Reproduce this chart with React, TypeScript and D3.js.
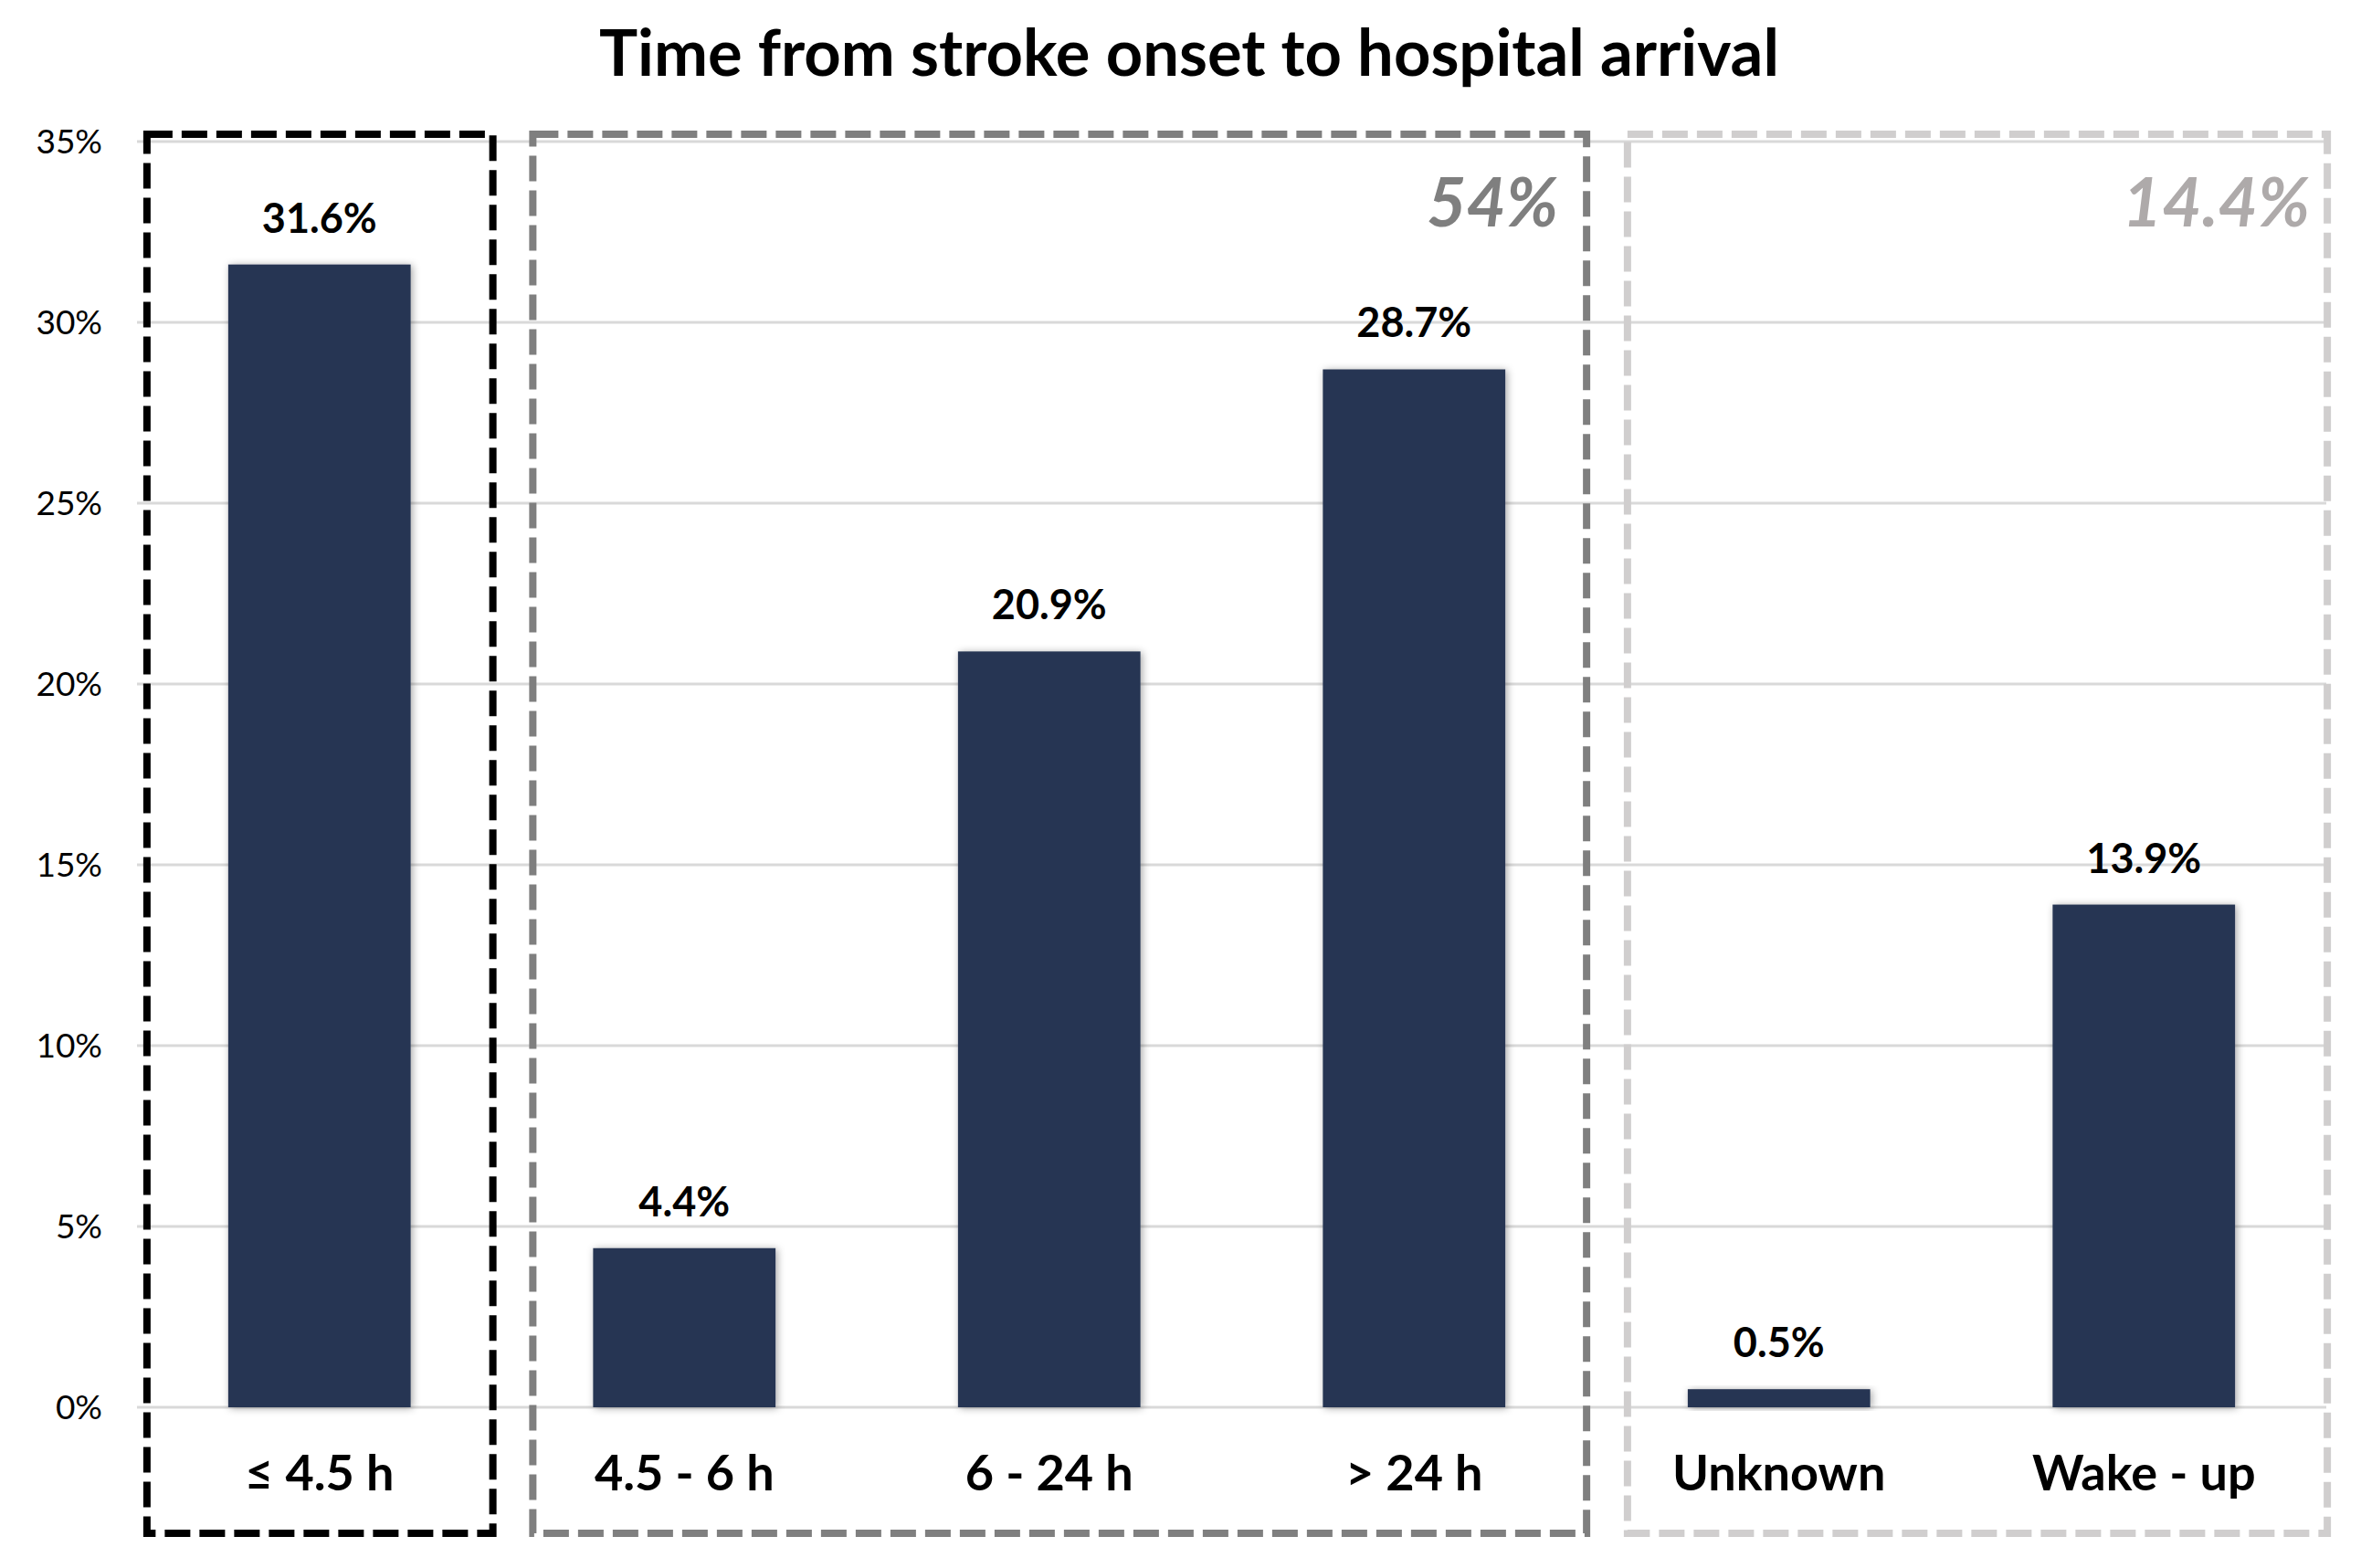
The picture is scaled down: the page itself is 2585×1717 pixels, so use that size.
import React from "react";
import * as d3 from "d3";

const categories = ["≤ 4.5 h", "4.5 - 6 h", "6 - 24 h", "> 24 h", "Unknown", "Wake - up"];
const values = [31.6, 4.4, 20.9, 28.7, 0.5, 13.9];
const yTicks = [0, 5, 10, 15, 20, 25, 30, 35];
const groupFirst = [0, 1, 4];
const groupLast = [0, 3, 5];
const groupTotals = ["", "54%", "14.4%"];

const TITLE = "Time from stroke onset to hospital arrival";
const W = 2585;
const H = 1717;
const FONT = "Lato, 'Open Sans', 'DejaVu Sans', sans-serif";
const BAR_COLOR = "#283553";
const groupStroke = ["#000000", "#7f7f7f", "#d0cece"];
const groupLabelColor = ["#000000", "#7f7f7f", "#aeaaaa"];
const groupPadL = [89, 66, 66];
const groupPadR = [90, 89, 101];
const groupLabelInset = [0, 31, 19];

export default function App() {
  const x = d3
    .scaleBand<string>()
    .domain(categories)
    .range([150, 2547])
    .paddingInner(0.5)
    .paddingOuter(0.25);
  const y = d3.scaleLinear().domain([0, 35]).range([1541, 155]);
  const bw = x.bandwidth();
  const boxTop = 147;
  const boxBottom = 1679;

  return (
    <svg
      width={W}
      height={H}
      viewBox={`0 0 ${W} ${H}`}
      style={{ position: "absolute", left: 0, top: 0, background: "#fff" }}
      fontFamily={FONT}
    >
      <defs>
        <filter id="shadow" x="-20%" y="-20%" width="140%" height="140%">
          <feDropShadow dx="2" dy="1" stdDeviation="4" floodColor="#000" floodOpacity="0.35" />
        </filter>
      </defs>
      <rect x={0} y={0} width={W} height={H} fill="#fff" />
      <text x={1302} y={83} textAnchor="middle" fontSize={70.5} fontWeight={700} fill="#000">
        {TITLE}
      </text>
      {/* gridlines */}
      {yTicks.map((t) => (
        <line key={"g" + t} x1={150} x2={2547} y1={y(t)} y2={y(t)} stroke="#d9d9d9" strokeWidth={3} />
      ))}
      {/* tick labels */}
      {yTicks.map((t) => (
        <text key={"t" + t} x={112} y={y(t) + 13} textAnchor="end" fontSize={37} fill="#000">
          {t + "%"}
        </text>
      ))}
      {/* bars */}
      {values.map((v, i) => (
        <rect
          key={"b" + i}
          x={x(categories[i])}
          y={y(v)}
          width={bw}
          height={y(0) - y(v)}
          fill={BAR_COLOR}
          filter="url(#shadow)"
        />
      ))}
      {/* value labels */}
      {values.map((v, i) => (
        <text
          key={"v" + i}
          x={(x(categories[i]) as number) + bw / 2}
          y={y(v) - 35}
          textAnchor="middle"
          fontSize={45}
          fontWeight={700}
          fill="#000"
        >
          {v.toFixed(1) + "%"}
        </text>
      ))}
      {/* category labels */}
      {categories.map((c) => (
        <text
          key={"c" + c}
          x={(x(c) as number) + bw / 2}
          y={1632}
          textAnchor="middle"
          fontSize={54}
          fontWeight={700}
          fill="#000"
        >
          {c}
        </text>
      ))}
      {/* group boxes */}
      {groupFirst.map((f, gi) => {
        const x0 = (x(categories[f]) as number) - groupPadL[gi];
        const x1 = (x(categories[groupLast[gi]]) as number) + bw + groupPadR[gi];
        return (
          <g key={"grp" + gi}>
            <rect
              x={x0}
              y={boxTop}
              width={x1 - x0}
              height={boxBottom - boxTop}
              fill="none"
              stroke={groupStroke[gi]}
              strokeWidth={8}
              strokeDasharray="28 10"
            />
            {groupTotals[gi] && (
              <text
                x={x1 - groupLabelInset[gi]}
                y={248}
                textAnchor="end"
                fontSize={75}
                fontWeight={700}
                fontStyle="italic"
                fill={groupLabelColor[gi]}
              >
                {groupTotals[gi]}
              </text>
            )}
          </g>
        );
      })}
    </svg>
  );
}
